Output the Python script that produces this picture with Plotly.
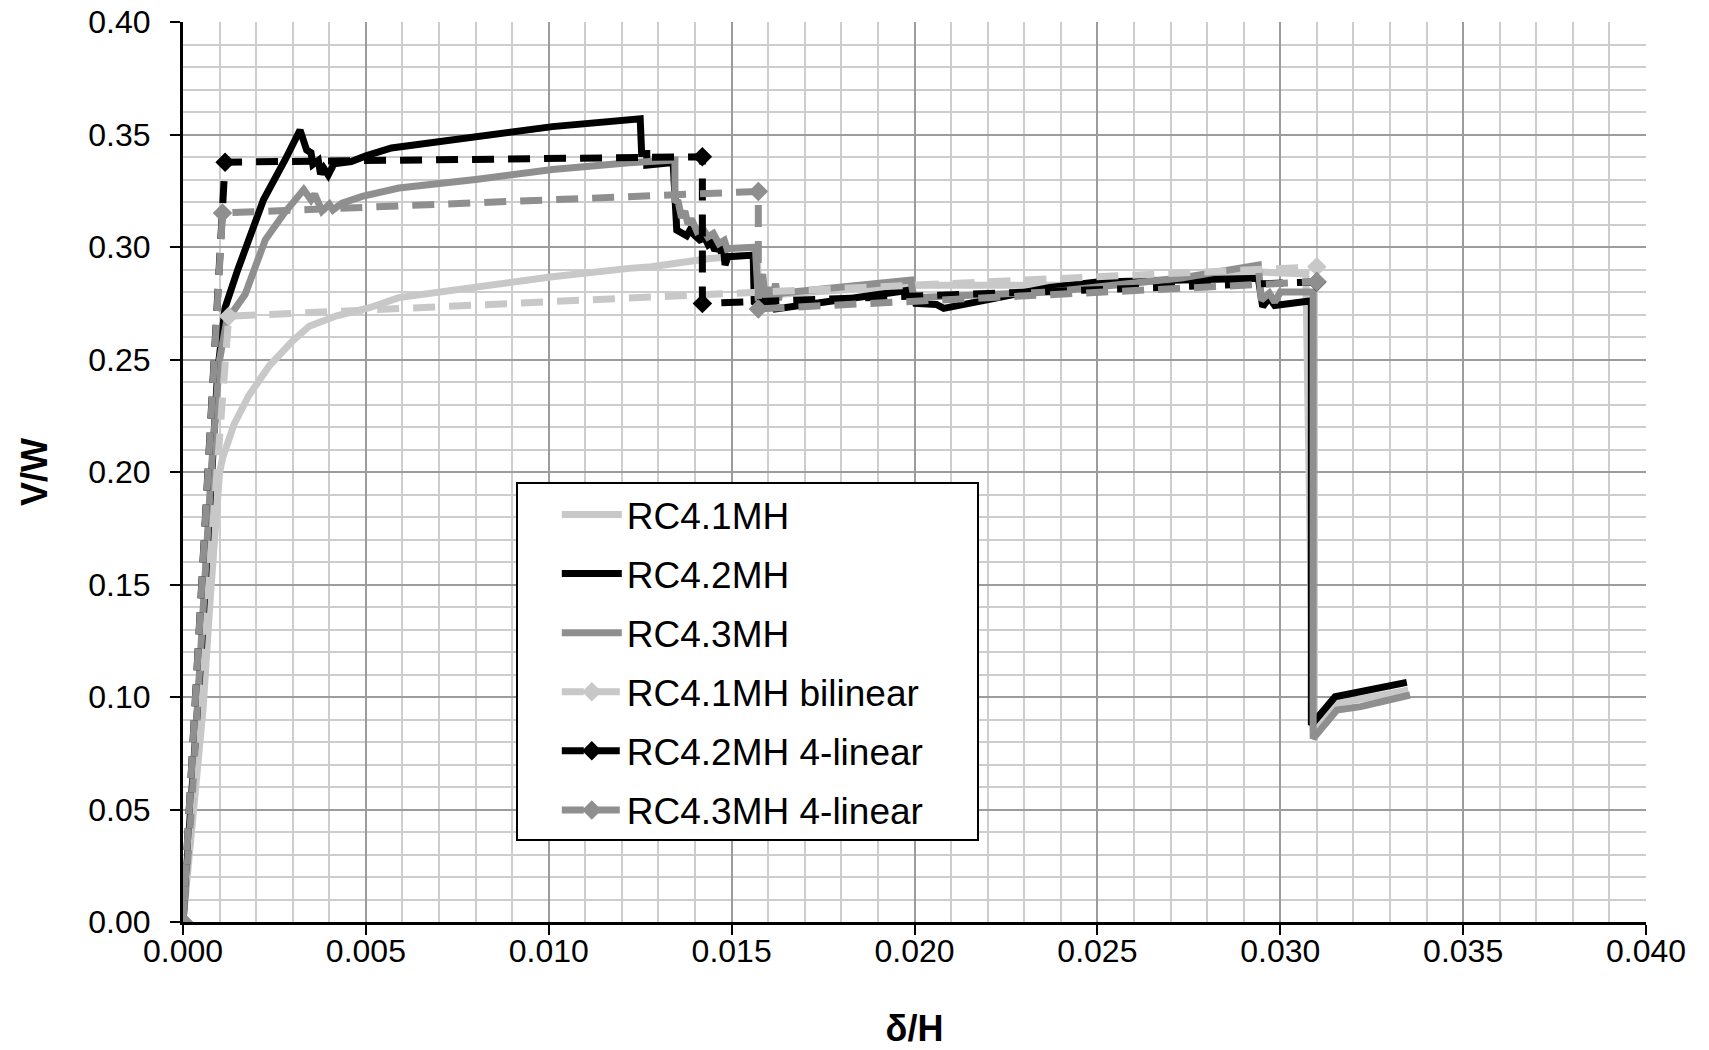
import plotly.graph_objects as go

# Drift ratio (delta/H) and normalised base shear (V/W) for the three walls

rc41_x = [0, 0.0003, 0.00055, 0.00075, 0.0009, 0.001, 0.00109, 0.0014, 0.0018, 0.00236,
          0.003, 0.00345, 0.0042, 0.0051, 0.0059, 0.008, 0.0101, 0.0122, 0.0128, 0.0144,
          0.0157, 0.01575, 0.0163, 0.0200, 0.0250, 0.0293, 0.0307, 0.0309, 0.0315, 0.0335]
rc41_y = [0, 0.05, 0.095, 0.145, 0.185, 0.200, 0.2066, 0.2214, 0.234, 0.2472,
          0.2583, 0.2648, 0.2694, 0.273, 0.2775, 0.2824, 0.2868, 0.2905, 0.2912, 0.2949,
          0.2965, 0.2770, 0.2790, 0.2830, 0.2830, 0.2890, 0.2880, 0.0850, 0.0970, 0.1030]

rc42_x = [0, 0.0005, 0.00095, 0.00115, 0.0015, 0.0022, 0.0028, 0.0032, 0.00338, 0.0035,
          0.00355, 0.0037, 0.00376, 0.00385, 0.00397, 0.00413, 0.0046, 0.0050, 0.0057, 0.0070,
          0.0080, 0.0101, 0.0125, 0.01254, 0.01268, 0.01268, 0.01340, 0.0135, 0.01377, 0.01386,
          0.0140, 0.01413, 0.01427, 0.01436, 0.01445, 0.01454, 0.01463, 0.01472, 0.01477, 0.01482,
          0.0149, 0.01559, 0.01562, 0.01585, 0.0160, 0.0161, 0.0162, 0.0199, 0.02003, 0.0206,
          0.0208, 0.0237, 0.0250, 0.0294, 0.02952, 0.0297, 0.02985, 0.0307, 0.03085, 0.03085,
          0.0315, 0.03346]
rc42_y = [0, 0.12, 0.245, 0.273, 0.29, 0.321, 0.339, 0.352, 0.3431, 0.3419,
          0.3367, 0.3385, 0.3324, 0.3350, 0.3320, 0.3370, 0.3380, 0.3405, 0.3440, 0.3468,
          0.3490, 0.3535, 0.3570, 0.3416, 0.3416, 0.3364, 0.3375, 0.3075, 0.3050, 0.3075,
          0.3050, 0.3031, 0.3040, 0.3010, 0.3020, 0.2985, 0.3005, 0.2975, 0.3010, 0.2920,
          0.2957, 0.2964, 0.2745, 0.2785, 0.2735, 0.2760, 0.2725, 0.2809, 0.2749, 0.2745,
          0.2727, 0.2820, 0.2845, 0.2861, 0.2735, 0.2775, 0.2740, 0.2761, 0.2761, 0.0876,
          0.1001, 0.1065]

rc43_x = [0, 0.00023, 0.00041, 0.00059, 0.00077, 0.001, 0.0012, 0.0017, 0.00225, 0.00277,
          0.0031, 0.0033, 0.0035, 0.0036, 0.0038, 0.0040, 0.0041, 0.00435, 0.0049, 0.0059,
          0.008, 0.0101, 0.0122, 0.01340, 0.01345, 0.01345, 0.01354, 0.01363, 0.01372, 0.01381,
          0.0139, 0.01405, 0.0142, 0.01435, 0.0145, 0.01465, 0.0148, 0.01488, 0.01495, 0.01565,
          0.01573, 0.01585, 0.01592, 0.01605, 0.01612, 0.0162, 0.01628, 0.01632, 0.0199, 0.01998,
          0.0237, 0.0273, 0.0294, 0.02948, 0.0297, 0.02985, 0.0300, 0.0309, 0.0309, 0.03155,
          0.0322, 0.03355]
rc43_y = [0, 0.05, 0.10, 0.15, 0.20, 0.25, 0.2675, 0.279, 0.3032, 0.3151,
          0.322, 0.3255, 0.3210, 0.3235, 0.3160, 0.3190, 0.3165, 0.3195, 0.3225, 0.3262,
          0.3300, 0.3344, 0.3374, 0.3390, 0.3387, 0.3209, 0.3200, 0.3130, 0.3160, 0.3100,
          0.3125, 0.3070, 0.3085, 0.3045, 0.3060, 0.3015, 0.3030, 0.2990, 0.2993, 0.2999,
          0.2760, 0.2880, 0.2762, 0.2820, 0.2765, 0.2837, 0.2764, 0.2794, 0.2853, 0.2775,
          0.2800, 0.2862, 0.2920, 0.2764, 0.2795, 0.2755, 0.2800, 0.2800, 0.0816, 0.0942,
          0.0957, 0.1009]

# Idealised envelopes
bil41_x = [0, 0.00125, 0.0310]
bil41_y = [0, 0.2692, 0.2912]

lin42_x = [0, 0.00115, 0.0142, 0.0142, 0.0310]
lin42_y = [0, 0.3377, 0.3401, 0.2749, 0.2845]

lin43_x = [0, 0.00108, 0.01573, 0.01573, 0.0310]
lin43_y = [0, 0.3151, 0.3247, 0.2725, 0.2846]

names = ["RC4.1MH", "RC4.2MH", "RC4.3MH",
         "RC4.1MH bilinear", "RC4.2MH 4-linear", "RC4.3MH 4-linear"]

LIGHT = "#c8c8c8"
DARK = "#000000"
MID = "#8f8f8f"
FONT = "Arial, 'Liberation Sans', sans-serif"
DASH = "22px,14px"
LW = 7

fig = go.Figure()

curves = [(rc41_x, rc41_y, LIGHT), (rc42_x, rc42_y, DARK), (rc43_x, rc43_y, MID)]
for (xs, ys, col), nm in zip(curves, names[:3]):
    fig.add_trace(go.Scatter(x=xs, y=ys, name=nm, mode="lines", legendgroup=nm,
                             line=dict(color=col, width=LW)))

envelopes = [(bil41_x, bil41_y, LIGHT), (lin42_x, lin42_y, DARK), (lin43_x, lin43_y, MID)]
for (xs, ys, col), nm in zip(envelopes, names[3:]):
    fig.add_trace(go.Scatter(x=xs, y=ys, name=nm, mode="lines+markers", legendgroup=nm,
                             line=dict(color=col, width=LW, dash=DASH),
                             marker=dict(symbol="diamond", size=15, color=col)))

# white legend box with black frame
fig.add_shape(type="rect", xref="paper", yref="paper",
              x0=0.2283, x1=0.5434, y0=0.0911, y1=0.4878,
              line=dict(color="black", width=2), fillcolor="white", layer="above")

axis_common = dict(
    showline=True, linecolor="black", linewidth=3,
    ticks="outside", ticklen=10, tickwidth=2, tickcolor="black",
    tickfont=dict(family=FONT, size=32, color="black"),
    showgrid=True, gridcolor="#9c9c9c", gridwidth=2,
    zeroline=False, automargin=False,
)

fig.update_xaxes(range=[0, 0.04], dtick=0.005, tickformat=".3f",
                 minor=dict(dtick=0.001, showgrid=True, gridcolor="#cdcdcd", gridwidth=2),
                 title=dict(text="<b>δ/H</b>", font=dict(family=FONT, size=36, color="black"),
                            standoff=48),
                 ticklabelstandoff=-11,
                 **axis_common)
fig.update_yaxes(range=[0, 0.4], dtick=0.05, tickformat=".2f",
                 minor=dict(dtick=0.01, showgrid=True, gridcolor="#cdcdcd", gridwidth=2),
                 title=dict(text="<b>V/W</b>", font=dict(family=FONT, size=36, color="black"),
                            standoff=30),
                 ticklabelstandoff=13,
                 **axis_common)

fig.update_layout(
    width=1709, height=1050, autosize=False,
    margin=dict(l=183, r=63, t=22, b=128),
    paper_bgcolor="white", plot_bgcolor="white",
    font=dict(family=FONT, color="black"),
    showlegend=True,
    legend=dict(x=0.2555, y=0.4868, xanchor="left", yanchor="top",
                bgcolor="rgba(0,0,0,0)", borderwidth=0,
                font=dict(family=FONT, size=37, color="black"),
                itemwidth=60, tracegroupgap=8),
)

fig.write_html("out.html")
